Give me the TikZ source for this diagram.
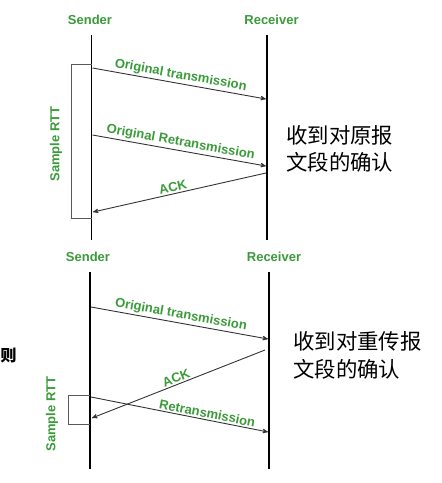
\documentclass[tikz,border=0pt]{standalone}
\usepackage{fontspec}
\setsansfont{Liberation Sans}
\newfontfamily\cjk{Noto Sans CJK SC}
\usetikzlibrary{arrows}
\definecolor{rttgreen}{RGB}{58,155,58}
\tikzset{arrow/.style={->, >=stealth', draw=black!80, line width=0.9pt},
  lifeline/.style={line width=1.8pt},
  lbl/.style={text=rttgreen, font=\sffamily\bfseries\fontsize{13}{15}\selectfont},
  msg/.style={lbl, sloped, above, inner sep=1.5pt},
  note/.style={font=\cjk\fontsize{21.4}{27.5}\selectfont, align=left, inner sep=0pt, anchor=west},
  rttbox/.style={draw=black!65, line width=1pt}}

\begin{document}
\begin{tikzpicture}[x=1pt, y=-1pt]
    \useasboundingbox (0,0) rectangle (442,483);
    % first exchange
    \node[lbl] (S1) at (90, 20) {Sender};
    \node[lbl] (R1) at (271.5, 20) {Receiver};
    \coordinate (S1t) at (91.5, 35);
    \coordinate (S1b) at (91.5, 240);
    \coordinate (R1t) at (267, 35);
    \coordinate (R1b) at (267, 240);
    \draw[lifeline] (S1t) -- (S1b);
    \draw[lifeline] (R1t) -- (R1b);
    \draw[rttbox] (91.5, 64) -- (71, 64) -- (71, 218) -- (91.5, 218);
    \node[lbl, rotate=90] (rtt1) at (56, 144) {Sample RTT};
    \coordinate (a1) at (92.5, 68);
    \coordinate (b1) at (266, 99);
    \coordinate (a2) at (92.5, 135);
    \coordinate (b2) at (266, 166);
    \coordinate (c1) at (266, 173);
    \coordinate (d1) at (93, 212);
    \draw[arrow] (a1) -- node[msg] {Original transmission} (b1);
    \draw[arrow] (a2) -- node[msg] {Original Retransmission} (b2);
    \draw[arrow] (c1) -- node[msg, pos=0.53] {ACK} (d1);
    \node[note] (N1) at (286, 149) {收到对原报\\文段的确认};
    % second exchange
    \node[lbl] (S2) at (88, 257) {Sender};
    \node[lbl] (R2) at (274, 257) {Receiver};
    \coordinate (S2t) at (90, 272);
    \coordinate (S2b) at (90, 469);
    \coordinate (R2t) at (269, 272);
    \coordinate (R2b) at (269, 469);
    \draw[lifeline] (S2t) -- (S2b);
    \draw[lifeline] (R2t) -- (R2b);
    \draw[rttbox] (90, 395) -- (68.5, 395) -- (68.5, 424) -- (90, 424);
    \node[lbl, rotate=90] (rtt2) at (52, 414) {Sample RTT};
    \coordinate (a3) at (91, 307);
    \coordinate (b3) at (268, 339);
    \coordinate (c2) at (265, 350);
    \coordinate (d2) at (92, 418);
    \coordinate (a4) at (91, 397);
    \coordinate (b4) at (268, 432);
    \draw[arrow] (a3) -- node[msg] {Original transmission} (b3);
    \draw[arrow] (c2) -- node[msg] {ACK} (d2);
    \draw[arrow] (a4) -- node[msg, pos=0.65] {Retransmission} (b4);
    \node[note] (N2) at (293, 355.5) {收到对重传报\\文段的确认};
    \node[font=\cjk\bfseries\fontsize{16}{16}\selectfont, anchor=west, inner sep=0pt] (ze) at (0.5, 356) {则};
  \end{tikzpicture}
\end{document}
